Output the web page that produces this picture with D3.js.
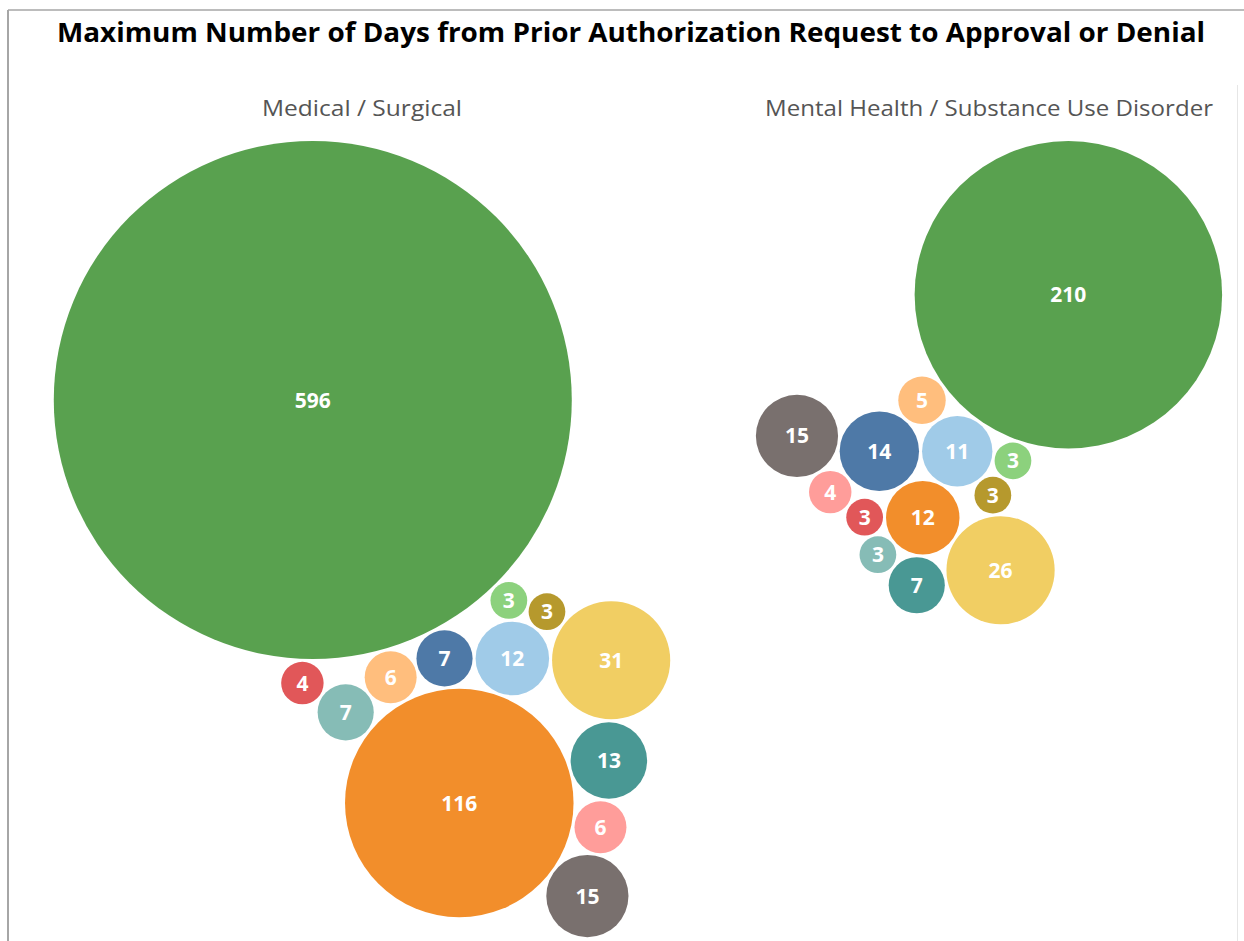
<!DOCTYPE html>
<html>
<head>
<meta charset="utf-8">
<script src="https://cdn.jsdelivr.net/npm/d3@7"></script>
<style>
  body { margin: 0; background: #fff; }
  text { font-family: "Open Sans", "Noto Sans", sans-serif; }
</style>
</head>
<body>
<div id="chart"></div>
<script>
// Chart data
var chartTitle = "Maximum Number of Days from Prior Authorization Request to Approval or Denial";
var panelTitles = ["Medical / Surgical", "Mental Health / Substance Use Disorder"];
var categories = ["Plan A", "Plan B", "Plan C", "Plan D", "Plan E", "Plan F", "Plan G",
                  "Plan H", "Plan I", "Plan J", "Plan K", "Plan L", "Plan M"];
var medSurgDays = [7, 12, 116, 6, 596, 3, 3, 31, 13, 7, 4, 6, 15];
var mhSudDays = [14, 11, 12, 5, 210, 3, 3, 26, 7, 3, 3, 4, 15];

// Tableau 20 palette (first 13 colours)
var palette = ["#4e79a7", "#a0cbe8", "#f28e2b", "#ffbe7d", "#59a14f", "#8cd17d", "#b6992d",
               "#f1ce63", "#499894", "#86bcb6", "#e15759", "#ff9d9a", "#79706e"];

var svgWidth = 1244;
var svgHeight = 941;

var svg = d3.select("#chart")
  .append("svg")
  .attr("width", svgWidth)
  .attr("height", svgHeight);

var color = d3.scaleOrdinal().domain(categories).range(palette);

// bubble area proportional to days
var size = d3.scaleSqrt()
  .domain([0, d3.max(medSurgDays)])
  .range([0, 259]);

var pad = 3;
var packTop = 141;

// circle c tangent to a and b (same helper as d3's packSiblings)
function place(b, a, c) {
  var dx = b.x - a.x, dy = b.y - a.y, d2 = dx * dx + dy * dy, x, y, a2, b2;
  a2 = a.r + c.r; a2 *= a2;
  b2 = b.r + c.r; b2 *= b2;
  if (a2 > b2) {
    x = (d2 + b2 - a2) / (2 * d2);
    y = Math.sqrt(Math.max(0, b2 / d2 - x * x));
    c.x = b.x - x * dx - y * dy;
    c.y = b.y - x * dy + y * dx;
  } else {
    x = (d2 + a2 - b2) / (2 * d2);
    y = Math.sqrt(Math.max(0, a2 / d2 - x * x));
    c.x = a.x + x * dx - y * dy;
    c.y = a.y + x * dy + y * dx;
  }
}

function intersects(a, b) {
  var dr = a.r + b.r - 1e-6, dx = b.x - a.x, dy = b.y - a.y;
  return dr > 0 && dr * dr > dx * dx + dy * dy;
}

/* Front-chain packing in category order (like d3.packSiblings), but each new
   bubble goes next to the chain bubble nearest the centre of the first three. */
function packChain(circles) {
  var n = circles.length, a, b, c, i, j, k, sj, sk, fresh = true;
  a = circles[0]; a.x = 0; a.y = 0;
  b = circles[1]; b.x = a.r + b.r; b.y = 0;
  c = circles[2]; place(b, a, c);
  var ox = (a.x + b.x + c.x) / 3, oy = (a.y + b.y + c.y) / 3;

  a = {_: a}; b = {_: b}; c = {_: c};
  a.next = c.previous = b;
  b.next = a.previous = c;
  c.next = b.previous = a;

  pack: for (i = 3; i < n; ++i) {
    if (fresh) {
      var m = a, md = Infinity, node = a;
      do {
        var dd = (node._.x - ox) ** 2 + (node._.y - oy) ** 2;
        if (dd < md) { md = dd; m = node; }
        node = node.next;
      } while (node !== a);
      b = m; a = m.previous;
    }
    fresh = true;
    place(a._, b._, c = circles[i]);
    c = {_: c};

    j = b.next; k = a.previous; sj = b._.r; sk = a._.r;
    do {
      if (sj <= sk) {
        if (intersects(j._, c._)) {
          b = j; a.next = b; b.previous = a; --i; fresh = false;
          continue pack;
        }
        sj += j._.r; j = j.next;
      } else {
        if (intersects(k._, c._)) {
          a = k; a.next = b; b.previous = a; --i; fresh = false;
          continue pack;
        }
        sk += k._.r; k = k.previous;
      }
    } while (j !== k.next);

    c.previous = a; c.next = b; a.next = b.previous = c;
    a = c;
  }
}

// pack, then centre the cluster in its pane
function layout(values, paneX) {
  var nodes = categories.map(function(c, i) {
    return {cat: c, value: values[i], r: size(values[i]) + pad / 2};
  });
  packChain(nodes);
  nodes.forEach(d => { d.r = size(d.value); });

  var x0 = d3.min(nodes, d => d.x - d.r), x1 = d3.max(nodes, d => d.x + d.r);
  var y0 = d3.min(nodes, d => d.y - d.r);
  var dx = paneX - (x0 + x1) / 2, dy = packTop - y0;
  nodes.forEach(d => { d.px = d.x + dx; d.py = d.y + dy; });
  return nodes;
}

var panels = [
  {title: panelTitles[0], values: medSurgDays, paneX: 362, titleLen: 200},
  {title: panelTitles[1], values: mhSudDays, paneX: 989, titleLen: 448}
];

// frame lines
svg.append("line")
  .attr("x1", 8).attr("x2", svgWidth)
  .attr("y1", 10).attr("y2", 10)
  .attr("stroke", "#a6a6a6")
  .attr("stroke-width", 1.5);

svg.append("line")
  .attr("x1", 8).attr("x2", 8)
  .attr("y1", 10).attr("y2", svgHeight)
  .attr("stroke", "#a6a6a6")
  .attr("stroke-width", 2);

svg.append("line")
  .attr("x1", 1237.5).attr("x2", 1237.5)
  .attr("y1", 85).attr("y2", svgHeight)
  .attr("stroke", "#e6e6e6")
  .attr("stroke-width", 1);

// title
svg.append("text")
  .attr("x", 631)
  .attr("y", 42)
  .attr("text-anchor", "middle")
  .attr("textLength", 1148)
  .attr("lengthAdjust", "spacingAndGlyphs")
  .style("font-size", "26px")
  .style("font-weight", "bold")
  .style("fill", "#000")
  .text(chartTitle);

panels.forEach(function(p) {
  svg.append("text")
    .attr("x", p.paneX)
    .attr("y", 116)
    .attr("text-anchor", "middle")
    .attr("textLength", p.titleLen)
    .attr("lengthAdjust", "spacingAndGlyphs")
    .style("font-size", "22px")
    .style("fill", "#555")
    .text(p.title);

  var nodes = layout(p.values, p.paneX);

  var bubble = svg.append("g").selectAll("g.bubble")
    .data(nodes)
    .enter()
    .append("g")
    .attr("class", "bubble")
    .attr("transform", d => `translate(${d.px}, ${d.py})`);

  bubble.append("circle")
    .attr("r", d => d.r)
    .attr("fill", d => color(d.cat));

  bubble.append("text")
    .attr("text-anchor", "middle")
    .attr("dy", "0.36em")
    .style("font-size", "21px")
    .style("font-weight", "bold")
    .style("fill", "#fff")
    .text(d => d.value);
});
</script>
</body>
</html>
